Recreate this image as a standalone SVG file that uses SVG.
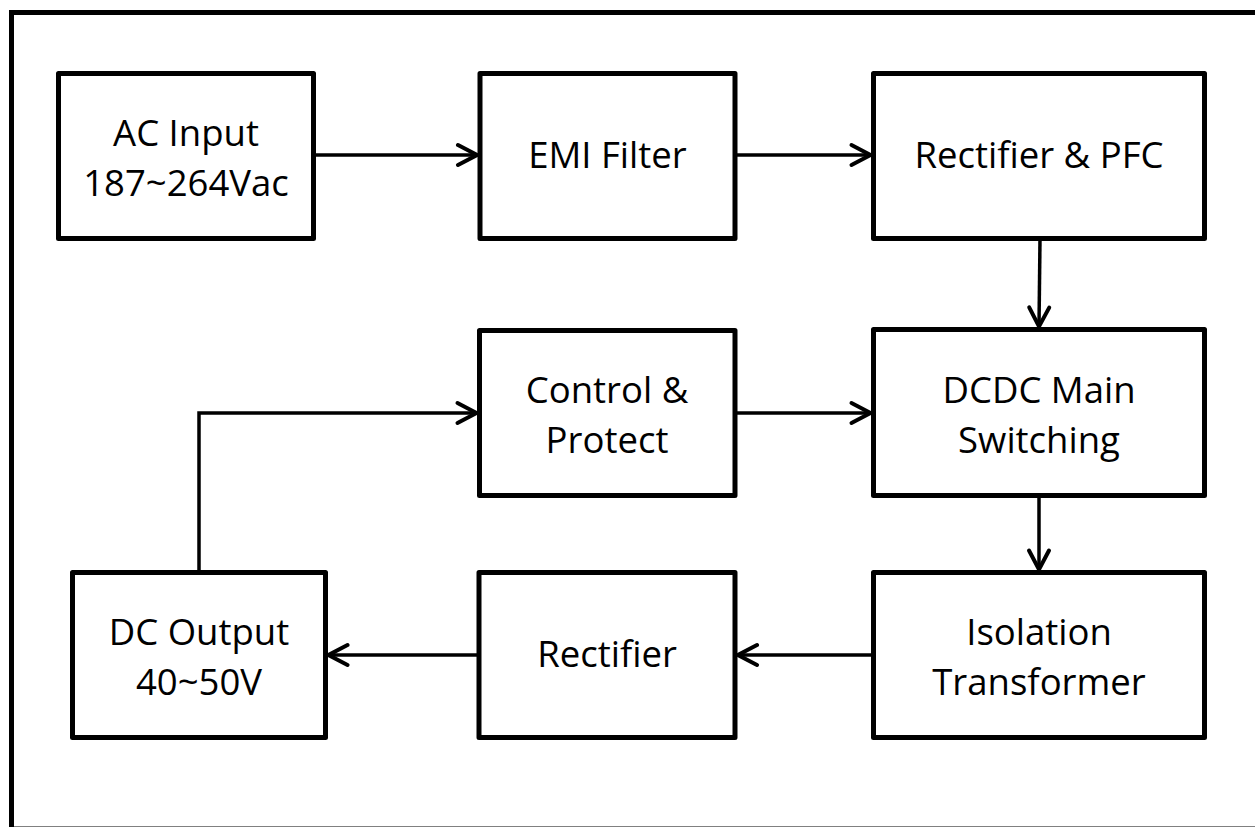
<svg xmlns="http://www.w3.org/2000/svg" width="1255" height="827" viewBox="0 0 1255 827">
<style>
.box{fill:#fff;stroke:#000;stroke-width:5;stroke-linejoin:round}
.t{font-family:"Open Sans","Noto Sans","Liberation Sans",sans-serif;font-size:36.5px;fill:#000;text-anchor:middle}
.c{fill:none;stroke:#000;stroke-width:3.5;marker-end:url(#arr)}
</style>
<defs>
<marker id="arr" markerUnits="userSpaceOnUse" viewBox="-24 -14 28 28" markerWidth="28" markerHeight="28" refX="0" refY="0" orient="auto">
<path d="M-19,-10 L0,0 L-19,10" fill="none" stroke="#000" stroke-width="4" stroke-linecap="round" stroke-linejoin="miter"/>
</marker>
</defs>
<rect x="0" y="0" width="1255" height="827" fill="#fff"/>
<rect x="11.5" y="12.5" width="1270" height="816.5" fill="none" stroke="#000" stroke-width="5"/>
<g id="connectors">
<path class="c" d="M313.5,155 L477,155"/>
<path class="c" d="M735,155 L870.5,155"/>
<path class="c" d="M1040,239 L1039,326.5"/>
<path class="c" d="M735,413 L870.5,413"/>
<path class="c" d="M1039,496 L1039,569.5"/>
<path class="c" d="M873.5,655 L738,655"/>
<path class="c" d="M479,655 L328.5,655"/>
<path class="c" d="M199,572 L199,413 L476.5,413"/>
</g>
<g id="ac-input">
<rect class="box" x="58.5" y="73.5" width="255" height="165"/>
<text class="t" x="186" y="146">AC Input</text>
<text class="t" x="186" y="196">187~264Vac</text>
</g>
<g id="emi-filter">
<rect class="box" x="480" y="73.5" width="255" height="165"/>
<text class="t" x="607.5" y="168">EMI Filter</text>
</g>
<g id="rectifier-pfc">
<rect class="box" x="873.5" y="73.5" width="331" height="165"/>
<text class="t" x="1039" y="168">Rectifier &amp; PFC</text>
</g>
<g id="control-protect">
<rect class="box" x="479.5" y="330.5" width="255.5" height="165"/>
<text class="t" x="607" y="403">Control &amp;</text>
<text class="t" x="607" y="453">Protect</text>
</g>
<g id="dcdc">
<rect class="box" x="873.5" y="329.5" width="331" height="166"/>
<text class="t" x="1039" y="403">DCDC Main</text>
<text class="t" x="1039" y="453">Switching</text>
</g>
<g id="dc-output">
<rect class="box" x="72.5" y="572.5" width="253" height="165"/>
<text class="t" x="199" y="645">DC Output</text>
<text class="t" x="199" y="695">40~50V</text>
</g>
<g id="rectifier">
<rect class="box" x="479" y="572.5" width="256" height="165"/>
<text class="t" x="607" y="667">Rectifier</text>
</g>
<g id="isolation">
<rect class="box" x="873.5" y="572.5" width="331" height="165"/>
<text class="t" x="1039" y="645">Isolation</text>
<text class="t" x="1039" y="695">Transformer</text>
</g>
</svg>
